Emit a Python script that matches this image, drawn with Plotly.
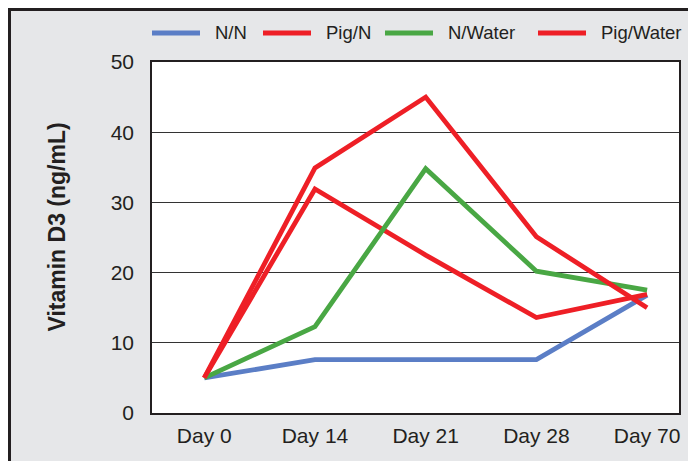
import plotly.graph_objects as go

days = ["Day 0", "Day 14", "Day 21", "Day 28", "Day 70"]
series_names = ["N/N", "Pig/N", "N/Water", "Pig/Water"]
nn = [5.0, 7.6, 7.6, 7.6, 16.8]
pig_n = [5.0, 31.9, 22.5, 13.6, 16.9]
n_water = [5.0, 12.3, 34.8, 20.2, 17.5]
pig_water = [5.0, 34.9, 45.0, 25.1, 15.0]
y_ticks = [0, 10, 20, 30, 40, 50]

BLUE = "#5b7ec6"
RED = "#ee1f26"
GREEN = "#49a744"
INK = "#231f20"

# page body has an 8px margin; figure coordinates are screen - 8
W, H = 696, 461
L, R, T, B = 144, 25, 54, 56
pw, ph = W - L - R, H - T - B

def px_x(p):
    return (p - L) / pw

def px_y(p):
    return (H - B - p) / ph

fig = go.Figure()
values = [nn, pig_n, n_water, pig_water]
colors = [BLUE, RED, GREEN, RED]
for name, vals, col in zip(series_names, values, colors):
    fig.add_trace(go.Scatter(x=list(range(len(days))), y=vals, name=name, mode="lines",
                             line=dict(color=col, width=4.8), showlegend=False))

# manual legend (long line samples like the reference)
legend_line_x = [144, 255, 377, 530]
legend_y = 25
for name, col, lx in zip(series_names, colors, legend_line_x):
    fig.add_shape(type="line", xref="paper", yref="paper",
                  x0=px_x(lx), x1=px_x(lx + 48), y0=px_y(legend_y), y1=px_y(legend_y),
                  line=dict(color=col, width=5))
    fig.add_annotation(text=name, xref="paper", yref="paper", x=px_x(lx + 61),
                       y=px_y(legend_y), xanchor="left", yanchor="middle",
                       showarrow=False, font=dict(size=18.5, color=INK))

fig.add_annotation(text="<b>Vitamin D3 (ng/mL)</b>", textangle=-90, xref="paper", yref="paper",
                   x=px_x(48), y=px_y(219.5), xanchor="center", yanchor="middle",
                   showarrow=False, font=dict(size=23, color=INK))

fig.update_layout(
    width=W, height=H,
    margin=dict(l=L, r=R, t=T, b=B),
    paper_bgcolor="#e6e7e9",
    plot_bgcolor="white",
    font=dict(family="Liberation Sans, Arial, sans-serif", color=INK),
    showlegend=False,
    xaxis=dict(tickmode="array", tickvals=list(range(len(days))), ticktext=days,
               range=[-0.472, 4.288], showgrid=False, zeroline=False,
               showline=True, linecolor=INK, linewidth=1.5, mirror=True,
               ticks="", tickfont=dict(size=21), ticklabelstandoff=3),
    yaxis=dict(range=[0, 50], tickvals=y_ticks, showgrid=True, gridcolor="#333333",
               gridwidth=1, zeroline=False, showline=True, linecolor=INK,
               linewidth=1.5, mirror=True, ticks="", tickfont=dict(size=21),
               ticklabelstandoff=12),
)

fig.add_shape(type="line", xref="paper", yref="paper",
              x0=px_x(1.5), x1=px_x(1.5), y0=px_y(0), y1=px_y(470),
              line=dict(color=INK, width=3))
fig.add_shape(type="line", xref="paper", yref="paper",
              x0=px_x(0), x1=px_x(710), y0=px_y(1.5), y1=px_y(1.5),
              line=dict(color=INK, width=3))

fig.write_html("out.html")
